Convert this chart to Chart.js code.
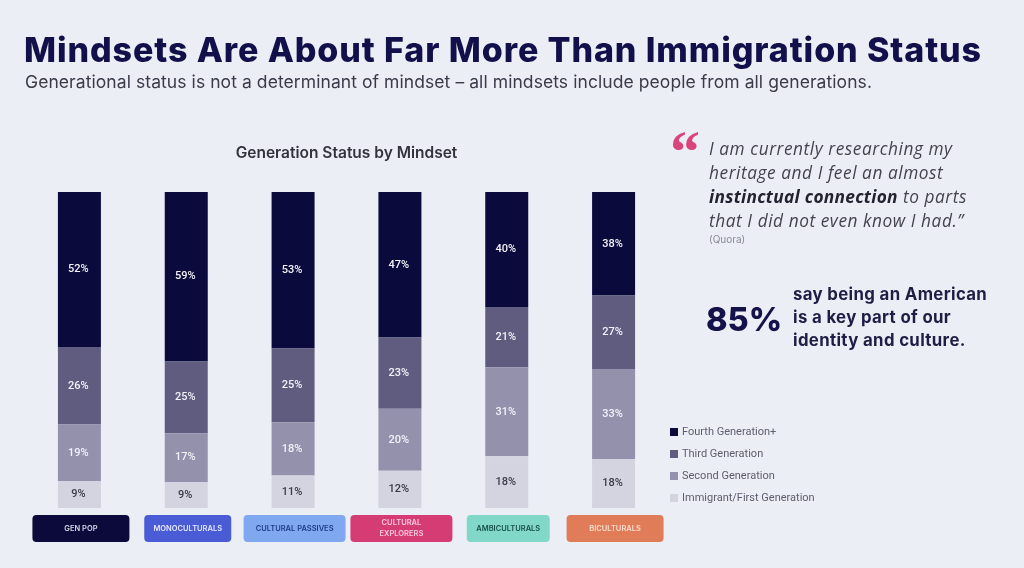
<!DOCTYPE html>
<html>
<head>
<meta charset="utf-8">
<script src="https://cdn.jsdelivr.net/npm/chart.js@4.4.1/dist/chart.umd.min.js"></script>
<style>
html,body{margin:0;padding:0;background:#eceef6;}
#wrap{position:relative;width:1024px;height:568px;overflow:hidden;background:#eceef6;font-family:Inter,"Noto Sans",sans-serif;}
#chart{position:absolute;left:0;top:0;}
.t{position:absolute;white-space:nowrap;line-height:1;margin:0;}
#h1{left:24px;top:32.6px;font-size:34px;font-weight:800;color:#12104a;}
#sub{left:25px;top:73px;font-size:17.5px;font-weight:400;color:#3a3a48;}
#qmark{left:670px;top:122px;font-family:"Liberation Serif","DejaVu Serif",serif;font-size:60px;font-weight:700;color:#d9457b;}
#quote{left:709px;top:137px;font-family:"Open Sans",sans-serif;font-style:italic;font-size:17.3px;letter-spacing:0.55px;line-height:24px;color:#44444f;white-space:nowrap;}
#quote b{color:#23232f;font-weight:700;letter-spacing:0.3px;}
#quora{left:709px;top:234px;font-size:10px;color:#8a8a96;}
#pct{left:706px;top:303.5px;font-size:32.5px;font-weight:800;color:#14124a;}
#stat{left:793px;top:282.5px;font-size:16.8px;font-weight:700;letter-spacing:0.35px;line-height:23px;color:#1e1d44;white-space:nowrap;}
</style>
</head>
<body>
<div id="wrap">
<canvas id="chart" width="1024" height="568"></canvas>
<div class="t" id="h1">Mindsets Are About Far More Than Immigration Status</div>
<div class="t" id="sub">Generational status is not a determinant of mindset – all mindsets include people from all generations.</div>
<div class="t" id="qmark">“</div>
<div class="t" id="quote">I am currently researching my<br>heritage and I feel an almost<br><b>instinctual connection</b> to parts<br>that I did not even know I had.”</div>
<div class="t" id="quora">(Quora)</div>
<div class="t" id="pct">85%</div>
<div class="t" id="stat">say being an American<br>is a key part of our<br>identity and culture.</div>
</div>
<script>
// ---- data ----
const categories = ['GEN POP', 'MONOCULTURALS', 'CULTURAL PASSIVES', 'CULTURAL EXPLORERS', 'AMBICULTURALS', 'BICULTURALS'];
const seriesNames = ['Immigrant/First Generation', 'Second Generation', 'Third Generation', 'Fourth Generation+'];
const firstGen  = [9, 9, 11, 12, 18, 18];
const secondGen = [19, 17, 18, 20, 31, 33];
const thirdGen  = [26, 25, 25, 23, 21, 27];
const fourthGen = [52, 59, 53, 47, 40, 38];

// ---- styles ----
const seriesColors = ['#d3d4df', '#9491ad', '#5f5c80', '#0b0a3d'];
const labelColors = ['#3a3a4a', '#f2f2f8', '#f2f2f8', '#f2f2f8'];
const catBoxColors = ['#0b0a3a', '#4a5bd6', '#80a8f0', '#d63c74', '#82d8c8', '#e07c58'];
const catTextColors = ['#d8d8ea', '#e4e8ff', '#1f3c88', '#f8cadb', '#17504a', '#f8dccd'];
const catBoxWidths = [97, 87, 102, 102, 83, 97];

function fitWidth(id, target) {
  const el = document.getElementById(id);
  const w = el.getBoundingClientRect().width;
  const n = el.textContent.length;
  el.style.letterSpacing = ((target - w) / n) + 'px';
}
fitWidth('h1', 958);
fitWidth('sub', 847);

const allSeries = [firstGen, secondGen, thirdGen, fourthGen];
const totals = categories.map((c, i) => allSeries.reduce((s, a) => s + a[i], 0));

const datasets = allSeries.map((vals, k) => ({
  label: seriesNames[k],
  data: vals.map((v, i) => v / totals[i] * 100),
  rawValues: vals,
  backgroundColor: seriesColors[k],
  borderWidth: 0,
  barPercentage: 1,
  categoryPercentage: 0.4025
}));

const valueLabels = {
  id: 'valueLabels',
  afterDatasetsDraw(chart) {
    const ctx = chart.ctx;
    ctx.save();
    ctx.font = '500 11px Roboto, "Noto Sans", sans-serif';
    ctx.textAlign = 'center';
    ctx.textBaseline = 'middle';
    chart.data.datasets.forEach((ds, k) => {
      const meta = chart.getDatasetMeta(k);
      meta.data.forEach((el, i) => {
        const p = el.getProps(['x', 'y', 'base'], true);
        ctx.fillStyle = labelColors[k];
        ctx.fillText(ds.rawValues[i] + '%', p.x - 1, (p.y + p.base) / 2);
      });
    });
    ctx.restore();
  }
};

const categoryBoxes = {
  id: 'categoryBoxes',
  afterDraw(chart) {
    const ctx = chart.ctx;
    const xs = chart.scales.x;
    const top = chart.chartArea.bottom + 7;
    const h = 27;
    ctx.save();
    ctx.textAlign = 'center';
    ctx.textBaseline = 'middle';
    ctx.font = '600 7.5px Inter, "Noto Sans", sans-serif';
    categories.forEach((c, i) => {
      const cx = xs.getPixelForValue(i) + 1.5;
      const w = catBoxWidths[i];
      ctx.fillStyle = catBoxColors[i];
      ctx.beginPath();
      ctx.roundRect(cx - w / 2, top, w, h, 4);
      ctx.fill();
      ctx.fillStyle = catTextColors[i];
      const words = c.split(' ');
      if (c === 'CULTURAL EXPLORERS') {
        ctx.fillText(words[0], cx, top + h / 2 - 5.5);
        ctx.fillText(words[1], cx, top + h / 2 + 5.5);
      } else {
        ctx.fillText(c, cx, top + h / 2);
      }
    });
    ctx.restore();
  }
};

const sideLegend = {
  id: 'sideLegend',
  afterDraw(chart) {
    const ctx = chart.ctx;
    const x = chart.chartArea.right + 3;
    const yBottom = chart.chartArea.bottom - 10;
    ctx.save();
    ctx.font = '11px Roboto, "Noto Sans", sans-serif';
    ctx.textBaseline = 'middle';
    ctx.textAlign = 'left';
    chart.data.datasets.forEach((ds, k) => {
      const cy = yBottom - 22 * k;
      ctx.fillStyle = ds.backgroundColor;
      ctx.fillRect(x, cy - 4, 8, 8);
      ctx.fillStyle = '#5d5d6c';
      ctx.fillText(ds.label, x + 12, cy);
    });
    ctx.restore();
  }
};

new Chart(document.getElementById('chart'), {
  type: 'bar',
  data: { labels: categories, datasets: datasets },
  options: {
    responsive: false,
    animation: false,
    devicePixelRatio: 1,
    layout: { padding: { left: 26, right: 357, top: 144, bottom: 60 } },
    plugins: {
      legend: { display: false },
      tooltip: { enabled: false },
      title: {
        display: true,
        text: 'Generation Status by Mindset',
        color: '#33333d',
        font: { family: 'Inter', size: 15.5, weight: '600', lineHeight: 1.2 },
        padding: { top: 0, bottom: 29.4 }
      }
    },
    scales: {
      x: { stacked: true, display: false },
      y: { stacked: true, display: false, min: 0, max: 100 }
    }
  },
  plugins: [valueLabels, categoryBoxes, sideLegend]
});
</script>
</body>
</html>
